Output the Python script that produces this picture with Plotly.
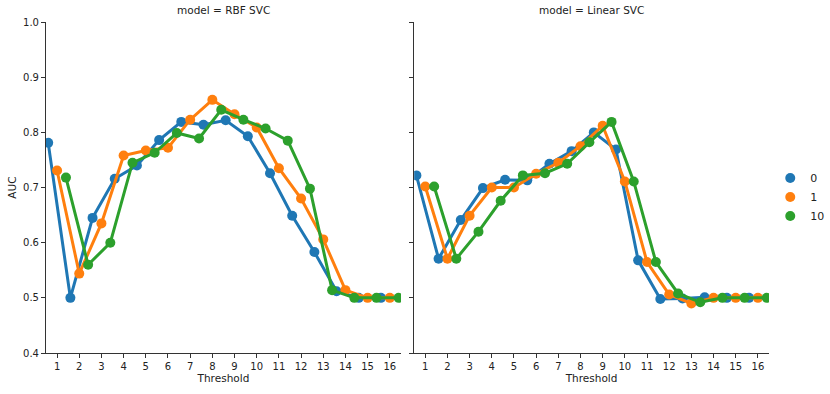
import plotly.graph_objects as go

thresholds = [str(t) for t in range(1, 17)]
hues = ["0", "1", "10"]
colors = ["#1f77b4", "#ff7f0e", "#2ca02c"]

rbf_0 = [0.781, 0.500, 0.645, 0.716, 0.740, 0.786, 0.819, 0.814,
         0.822, 0.793, 0.726, 0.649, 0.583, 0.512, 0.500, 0.500]
rbf_1 = [0.731, 0.544, 0.635, 0.758, 0.767, 0.772, 0.823, 0.859,
         0.833, 0.809, 0.735, 0.680, 0.606, 0.514, 0.500, 0.500]
rbf_10 = [0.718, 0.560, 0.600, 0.745, 0.763, 0.799, 0.789, 0.841,
          0.823, 0.807, 0.785, 0.698, 0.514, 0.500, 0.500, 0.500]

lin_0 = [0.722, 0.571, 0.641, 0.699, 0.714, 0.713, 0.743, 0.766,
         0.800, 0.769, 0.568, 0.498, 0.499, 0.501, 0.500, 0.500]
lin_1 = [0.702, 0.571, 0.649, 0.700, 0.700, 0.725, 0.745, 0.775,
         0.812, 0.711, 0.565, 0.506, 0.490, 0.500, 0.500, 0.500]
lin_10 = [0.702, 0.571, 0.620, 0.676, 0.722, 0.726, 0.743, 0.782,
          0.819, 0.711, 0.565, 0.508, 0.492, 0.500, 0.500, 0.500]

panels = [
  ("RBF SVC", [rbf_0, rbf_1, rbf_10]),
  ("Linear SVC", [lin_0, lin_1, lin_10]),
]

FONT = "DejaVu Sans"
dodge = [-0.4, 0.0, 0.4]

fig = go.Figure()

for p, (model, series) in enumerate(panels):
  xa = "x" if p == 0 else "x2"
  ya = "y" if p == 0 else "y2"
  for h, vals in enumerate(series):
    xs = [i + dodge[h] for i in range(len(thresholds))]
    fig.add_trace(go.Scatter(
      x=xs, y=vals, mode="lines+markers",
      line=dict(color=colors[h], width=3),
      marker=dict(color=colors[h], size=10),
      xaxis=xa, yaxis=ya, showlegend=False,
    ))

# legend-only entries (seaborn shows just the marker)
for h, name in enumerate(hues):
  fig.add_trace(go.Scatter(
    x=[None], y=[None], mode="markers", name=name,
    marker=dict(color=colors[h], size=10),
  ))

ax_common = dict(
  range=[-0.5, 15.5], tickvals=list(range(16)), ticktext=thresholds,
  showgrid=False, zeroline=False, showline=True, linecolor="#333",
  linewidth=1, ticks="outside", ticklen=4, tickcolor="#333",
  tickfont=dict(size=10, color="#222"), automargin=False,
  title=dict(text="Threshold", font=dict(size=10.5, color="#222"), standoff=2),
)
ay_common = dict(
  range=[0.4, 1.0], tickvals=[0.4, 0.5, 0.6, 0.7, 0.8, 0.9, 1.0],
  tickformat=".1f", showgrid=False, zeroline=False, showline=True,
  linecolor="#333", linewidth=1, ticks="outside", ticklen=4,
  tickcolor="#333", tickfont=dict(size=10, color="#222"), automargin=False,
)

fig.update_layout(
  width=830, height=394,
  margin=dict(l=0, r=0, t=0, b=0),
  plot_bgcolor="white", paper_bgcolor="white",
  font=dict(family=FONT, color="#222"),
  xaxis=dict(ax_common, domain=[0.0554, 0.483], anchor="y"),
  xaxis2=dict(ax_common, domain=[0.499, 0.9265], anchor="y2"),
  yaxis=dict(ay_common, domain=[0.104, 0.944], anchor="x",
             title=dict(text="AUC", font=dict(size=10.5), standoff=4)),
  yaxis2=dict(ay_common, domain=[0.104, 0.944], anchor="x2",
              showticklabels=False, matches="y"),
  legend=dict(x=0.928, y=0.5, yanchor="middle", xanchor="left",
              font=dict(size=11), bgcolor="rgba(0,0,0,0)",
              itemwidth=30, tracegroupgap=2),
  annotations=[
    dict(text="model = RBF SVC", x=0.269, y=0.955, xref="paper",
         yref="paper", xanchor="center", yanchor="bottom",
         showarrow=False, font=dict(size=10.5)),
    dict(text="model = Linear SVC", x=0.713, y=0.955, xref="paper",
         yref="paper", xanchor="center", yanchor="bottom",
         showarrow=False, font=dict(size=10.5)),
  ],
)

# drop the default body margin so the figure sits at the page corner
fig.write_html("out.html", config={"displayModeBar": False},
               post_script="document.body.style.margin='0';")
